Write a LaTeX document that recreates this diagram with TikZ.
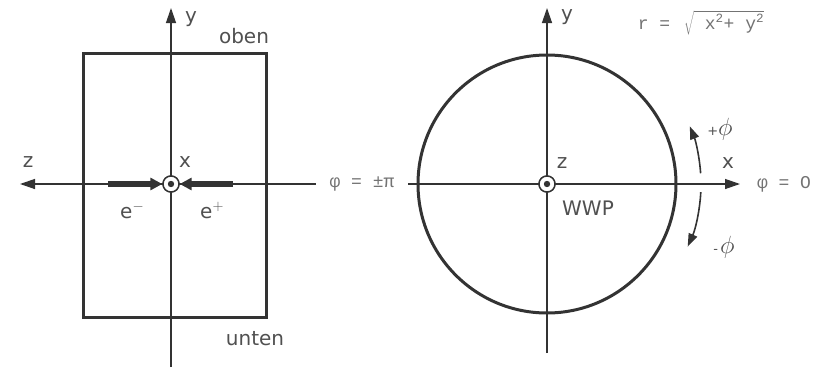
\documentclass[tikz,border=0pt]{standalone}
\usepackage{fontspec}
\setmainfont{DejaVu Sans}
\setmonofont{Liberation Mono}
\usetikzlibrary{arrows.meta, positioning}
\definecolor{ink}{HTML}{333333}
\definecolor{lettering}{HTML}{505050}

\begin{document}
\begin{tikzpicture}[
    x=1pt, y=-1pt,
    every node/.style={font=\fontsize{20}{22}\selectfont, text=lettering, inner sep=0pt},
    lbl/.style={anchor=base},
    formel/.style={font=\ttfamily\fontsize{18}{20}\selectfont, text=lettering!80},
    axis/.style={draw=ink, line width=1.3pt, -{Triangle[length=15pt, width=10pt]}},
    frame/.style={draw=ink, line width=3pt},
    beam/.style={draw=ink, line width=5.5pt, -{Triangle[length=12pt, width=12pt]}},
    turn/.style={draw=ink, line width=1.6pt, -{Triangle[length=13pt, width=9pt]}},
    ipoint/.style={circle, draw=ink, fill=white, line width=1.4pt, minimum size=16pt}
]
    \useasboundingbox (0,0) rectangle (830,367);

    % left: detector side view
    \coordinate (boxNW) at (83,53);
    \coordinate (boxSE) at (266,317);
    \coordinate (yLtop) at (171,8);
    \coordinate (yLbot) at (171,367);
    \coordinate (zLend) at (20,184);
    \node[formel, minimum width=92pt] (phipi) at (362,184) {φ = ±π};
    \node[ipoint] (ipL) at (171,184) {};

    \node[lbl] (yL)    at (191,22)  {y};
    \node[lbl] (oben)  at (244,43)  {oben};
    \node[lbl] (unten) at (255,345) {unten};
    \node[lbl] (zL)    at (28,167)  {z};
    \node[lbl] (xL)    at (185,167) {x};
    \node[anchor=base west] (em) at (120,218) {e$^{-}$};
    \node[anchor=base west] (ep) at (200,218) {e$^{+}$};
    \coordinate (emS) at (108,184);
    \coordinate (epS) at (233,184);

    % right: beam view
    \coordinate (wwp) at (547,184);
    \coordinate (yRtop) at (547,8);
    \coordinate (yRbot) at (547,353);
    \coordinate (xRend) at (740,184);
    \node[ipoint] (ipR) at (wwp) {};

    \node[lbl] (yR)   at (567,20)  {y};
    \node[lbl] (zR)   at (562,168) {z};
    \node[lbl] (wwpl) at (588,215) {WWP};
    \node[lbl] (xR)   at (728,168) {x};
    \node[font=\fontsize{25}{25}\selectfont] (plus)  at (720,129)
        {{\fontsize{13}{13}\selectfont +}$\phi$};
    \node[font=\fontsize{25}{25}\selectfont] (minus) at (724,247)
        {{\fontsize{13}{13}\selectfont -\,}$\phi$};
    \node[formel] (phinull) at (784,184) {φ = O};
    \node[formel] (radius)  at (701,23)
        {r = \,$\sqrt{\hbox{\ttfamily\ x\textsuperscript{2}+ y\textsuperscript{2}}}$};

    \draw[frame] (boxNW) rectangle (boxSE);
    \draw[frame] (wwp) circle (129);

    \draw[axis] (yLbot) -- (yLtop);
    \draw[axis] (phipi.west) -- (zLend);
    \draw[axis] (yRbot) -- (yRtop);
    \draw[axis] (phipi.east) -- (xRend);

    \node[ipoint] at (ipL) {};
    \fill[ink] (ipL) circle (3.2);
    \node[ipoint] at (ipR) {};
    \fill[ink] (ipR) circle (3.2);

    \draw[beam] (emS) -- (ipL.west);
    \draw[beam] (epS) -- (ipL.east);

    \draw[turn] ([shift={(-4:154)}]wwp) arc[start angle=-4, end angle=-22, radius=154];
    \draw[turn] ([shift={(3:154)}]wwp) arc[start angle=3, end angle=24, radius=154];
\end{tikzpicture}
\end{document}
